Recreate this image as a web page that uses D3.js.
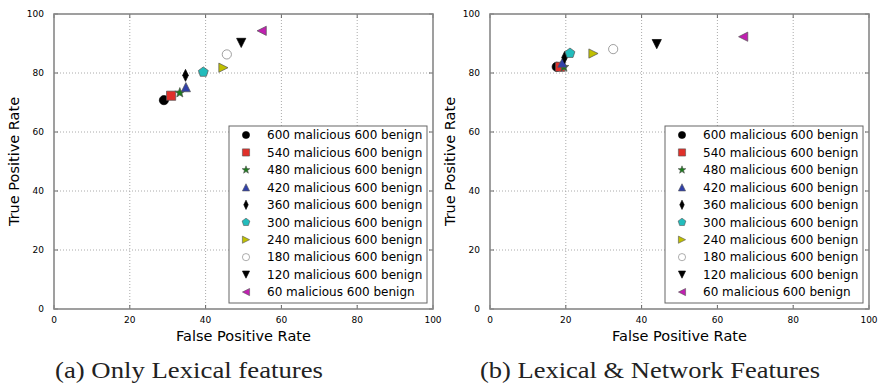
<html>
<meta charset="utf-8" />
<head>
<title>FPR vs TPR scatter</title>
<script src="https://cdn.jsdelivr.net/npm/d3@7/dist/d3.min.js"></script>
<style>
  body { margin: 0; background: #fff; }
  svg { display: block; }
</style>
</head>
<body>
<svg id="chart" width="880" height="386"></svg>
<script>
// legend labels, one per series
const labels = [
  '600 malicious 600 benign', '540 malicious 600 benign', '480 malicious 600 benign',
  '420 malicious 600 benign', '360 malicious 600 benign', '300 malicious 600 benign',
  '240 malicious 600 benign', '180 malicious 600 benign', '120 malicious 600 benign',
  '60 malicious 600 benign'
];
const markers = ['circle', 'square', 'star', 'triUp', 'diamond', 'pentagon', 'triRight', 'circle', 'triDown', 'triLeft'];
const colors = ['#000000', '#e0302a', '#1d7a1d', '#3040a8', '#000000', '#22bcbc', '#c0c000', '#ffffff', '#000000', '#c020b0'];
const edges = ['#000', '#555', '#555', '#555', '#000', '#555', '#555', '#777', '#000', '#555'];

// (a) only lexical
const lexFPR = [29.0, 30.9, 33.2, 34.8, 34.7, 39.4, 44.7, 45.6, 49.4, 54.8];
const lexTPR = [70.8, 72.3, 73.3, 75.2, 79.2, 80.3, 81.8, 86.3, 90.2, 94.3];
// (b) lexical + network
const netFPR = [17.6, 18.5, 19.5, 19.1, 19.7, 21.1, 27.3, 32.5, 44.0, 66.8];
const netTPR = [82.1, 82.1, 82.0, 83.5, 85.3, 86.7, 86.6, 88.1, 89.8, 92.3];

const ticks = [0, 20, 40, 60, 80, 100];

// polygon markers, size = radius in px
function poly(n, rot, sx, sy) {
  return {
    draw(ctx, r) {
      for (let i = 0; i < n; i++) {
        let a = rot + i * 2 * Math.PI / n;
        let x = Math.cos(a) * r * (sx || 1), y = Math.sin(a) * r * (sy || 1);
        if (i == 0) ctx.moveTo(x, y); else ctx.lineTo(x, y);
      }
      ctx.closePath();
    }
  };
}
const shapes = {
  circle: { draw(ctx, r) { ctx.moveTo(r, 0); ctx.arc(0, 0, r, 0, 2 * Math.PI); } },
  square: { draw(ctx, r) { ctx.rect(-r, -r, 2 * r, 2 * r); } },
  star: { draw(ctx, r) {
    for (let i = 0; i < 10; i++) {
      let a = -Math.PI / 2 + i * Math.PI / 5, rr = i % 2 ? r * 0.42 : r;
      if (i == 0) ctx.moveTo(Math.cos(a) * rr, Math.sin(a) * rr); else ctx.lineTo(Math.cos(a) * rr, Math.sin(a) * rr);
    }
    ctx.closePath();
  } },
  triUp: { draw(ctx, r) { ctx.moveTo(0, -r); ctx.lineTo(r, r); ctx.lineTo(-r, r); ctx.closePath(); } },
  triDown: { draw(ctx, r) { ctx.moveTo(0, r); ctx.lineTo(r, -r); ctx.lineTo(-r, -r); ctx.closePath(); } },
  triRight: { draw(ctx, r) { ctx.moveTo(r, 0); ctx.lineTo(-r, r); ctx.lineTo(-r, -r); ctx.closePath(); } },
  triLeft: { draw(ctx, r) { ctx.moveTo(-r, 0); ctx.lineTo(r, r); ctx.lineTo(r, -r); ctx.closePath(); } },
  diamond: poly(4, -Math.PI / 2, 0.55, 1.15),
  pentagon: poly(5, -Math.PI / 2)
};
const plotR = { circle: 4.6, square: 4.6, star: 5.2, triUp: 4.6, triDown: 4.6, triRight: 4.6, triLeft: 4.6, diamond: 5.2, pentagon: 5.2 };

const svg = d3.select('#chart');

function panel(ox, fpr, tpr, caption, capW) {
  let x = d3.scaleLinear().domain([0, 100]).range([ox, ox + 379]);
  let y = d3.scaleLinear().domain([0, 100]).range([309, 14]);
  let g = svg.append('g');

  // grid
  g.selectAll('.gx').data(ticks.slice(1, -1)).enter().append('line')
    .attr('x1', d => x(d)).attr('x2', d => x(d)).attr('y1', y(0)).attr('y2', y(100))
    .style('stroke', '#aaa').style('stroke-dasharray', '1,2');
  g.selectAll('.gy').data(ticks.slice(1, -1)).enter().append('line')
    .attr('y1', d => y(d)).attr('y2', d => y(d)).attr('x1', x(0)).attr('x2', x(100))
    .style('stroke', '#aaa').style('stroke-dasharray', '1,2');

  // inward ticks on all sides
  ticks.forEach(t => {
    g.append('line').attr('x1', x(t)).attr('x2', x(t)).attr('y1', y(0)).attr('y2', y(0) - 4).style('stroke', '#666');
    g.append('line').attr('x1', x(t)).attr('x2', x(t)).attr('y1', y(100)).attr('y2', y(100) + 4).style('stroke', '#666');
    g.append('line').attr('y1', y(t)).attr('y2', y(t)).attr('x1', x(0)).attr('x2', x(0) + 4).style('stroke', '#666');
    g.append('line').attr('y1', y(t)).attr('y2', y(t)).attr('x1', x(100)).attr('x2', x(100) - 4).style('stroke', '#666');
  });

  // tick labels
  g.selectAll('.tx').data(ticks).enter().append('text')
    .attr('x', d => x(d)).attr('y', 323).attr('text-anchor', 'middle')
    .style('font', '9px "DejaVu Sans"').text(d => d);
  g.selectAll('.ty').data(ticks).enter().append('text')
    .attr('x', x(0) - 10).attr('y', d => y(d) + 3).attr('text-anchor', 'end')
    .style('font', '9px "DejaVu Sans"').text(d => d);

  // axis titles
  g.append('text').attr('x', (x(0) + x(100)) / 2).attr('y', 341).attr('text-anchor', 'middle')
    .style('font', '14.5px "DejaVu Sans"').text('False Positive Rate');
  g.append('text').attr('transform', 'translate(' + (ox - 35) + ',' + ((y(0) + y(100)) / 2) + ') rotate(-90)')
    .attr('text-anchor', 'middle').style('font', '14.5px "DejaVu Sans"').text('True Positive Rate');

  // points
  g.selectAll('.pt').data(labels).enter().append('path')
    .attr('transform', (d, i) => 'translate(' + x(fpr[i]) + ',' + y(tpr[i]) + ')')
    .attr('d', (d, i) => d3.symbol(shapes[markers[i]], plotR[markers[i]])())
    .style('fill', (d, i) => colors[i]).style('stroke', (d, i) => edges[i]).style('stroke-width', 0.7);

  // frame
  g.append('rect').attr('x', x(0)).attr('y', y(100)).attr('width', x(100) - x(0)).attr('height', y(0) - y(100))
    .style('fill', 'none').style('stroke', '#888').style('stroke-width', 1.6);

  // legend
  let lx = ox + 175, ly = 126;
  let leg = g.append('g');
  leg.append('rect').attr('x', lx).attr('y', ly).attr('width', 198).attr('height', 177)
    .style('fill', '#fff').style('stroke', '#666').style('stroke-width', 1);
  let row = leg.selectAll('.row').data(labels).enter().append('g')
    .attr('transform', (d, i) => 'translate(' + lx + ',' + (ly + 9 + i * 17.45) + ')');
  row.append('path').attr('transform', 'translate(17,0)')
    .attr('d', (d, i) => d3.symbol(shapes[markers[i]], plotR[markers[i]] * 0.78)())
    .style('fill', (d, i) => colors[i]).style('stroke', (d, i) => edges[i]).style('stroke-width', 0.6);
  row.append('text').attr('x', 38).attr('y', 4.3).style('font', '12px "DejaVu Sans"').text(d => d);

  // caption
  svg.append('text').attr('x', caption.x).attr('y', 378)
    .attr('textLength', capW).attr('lengthAdjust', 'spacingAndGlyphs')
    .style('font', '23px "Liberation Serif"').style('fill', '#222').text(caption.t);
}

panel(54, lexFPR, lexTPR, { x: 55, t: '(a) Only Lexical features' }, 268);
panel(490, netFPR, netTPR, { x: 480, t: '(b) Lexical & Network Features' }, 340);
</script>
</body>
</html>
